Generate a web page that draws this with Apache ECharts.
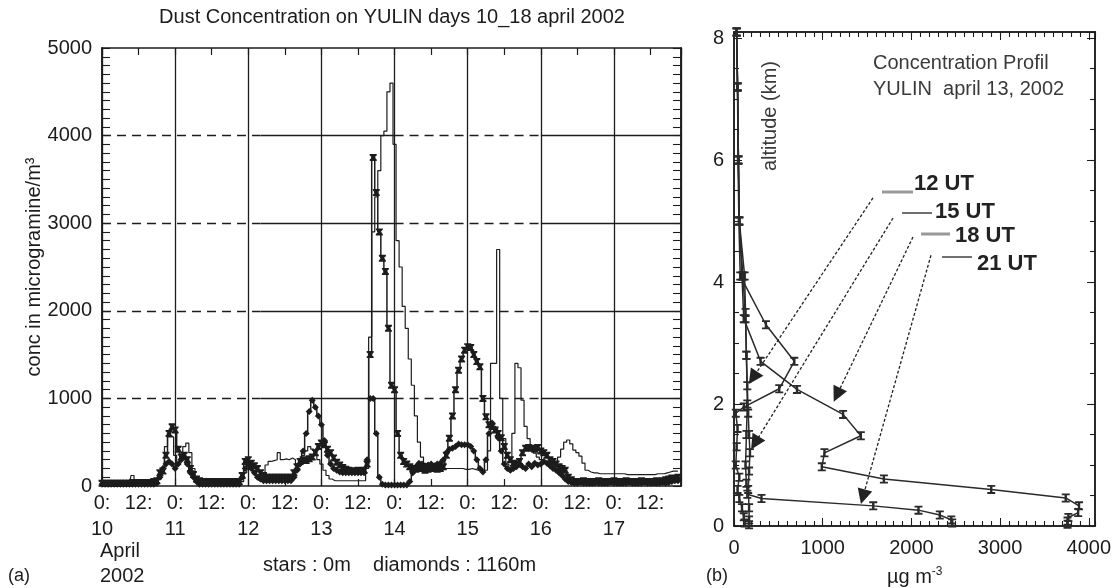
<!DOCTYPE html>
<html><head><meta charset="utf-8">
<script src="https://cdn.jsdelivr.net/npm/echarts@6/dist/echarts.min.js"></script>
<style>html,body{margin:0;padding:0;background:#fff}#c{width:1115px;height:588px}</style>
</head><body><div id="c"></div>
<script>
// ---------- LEFT PANEL DATA (hourly, hour 0 = 10 April 00:00) ----------
const dayLabels = ['10','11','12','13','14','15','16','17'];
// thin line (no markers)
const thinVals = [
 10,10,10,10,10,10,10,10,10,10,
 120,40,20,20,20,20,20,20,30,80,
 200,450,560,560,350,250,350,450,490,380,
 200,80,20,20,20,20,20,20,20,20,
 20,20,20,20,20,20,50,150,250,200,
 150,100,60,100,240,280,290,300,380,300,
 310,300,320,300,250,300,350,400,450,420,
 380,300,250,180,120,80,60,60,60,60,
 60,60,60,60,60,60,60,200,1700,2900,
 3300,3600,4000,4050,4500,4600,3900,2800,2500,2050,
 1800,1450,1150,800,500,330,250,220,200,200,
 200,200,200,200,200,200,200,200,200,190,
 190,200,190,180,190,180,180,400,1400,1400,
 2700,1000,540,250,180,600,1400,1350,980,680,
 540,450,375,330,300,280,250,230,250,280,
 330,420,500,525,480,410,380,340,260,180,
 160,150,150,140,140,140,140,140,140,140,
 140,140,130,130,130,130,130,130,130,130,
 130,130,140,140,140,150,160,170,170,170];
// stars : 0 m
const starVals = [
 30,30,30,30,30,30,30,30,30,30,
 40,40,40,40,40,40,40,50,60,150,
 170,350,600,675,640,420,330,350,300,200,
 130,80,60,50,50,50,50,50,50,50,
 50,50,50,50,50,50,120,280,300,260,
 230,200,150,120,100,100,100,100,100,100,
 100,100,100,150,220,280,300,290,310,330,
 380,450,490,470,420,380,320,270,240,210,
 190,180,170,170,180,170,180,250,1500,3750,
 3350,2900,2600,2450,1800,1150,1100,600,350,280,
 250,220,200,190,210,200,180,190,200,210,
 190,200,220,350,545,800,1100,1320,1450,1550,
 1590,1580,1500,1420,1360,1000,790,700,680,640,
 600,550,450,350,300,260,250,280,380,430,
 440,430,420,440,400,380,350,300,280,250,
 220,200,180,100,70,50,50,50,60,50,
 50,40,50,60,50,40,50,50,60,50,
 40,50,60,50,50,40,50,60,50,50,
 50,40,60,50,60,70,80,90,80,100];
// diamonds : 1160 m
const diamondVals = [
 20,20,20,20,20,20,20,20,20,20,
 20,20,20,20,20,20,20,20,30,100,
 200,250,280,250,200,250,300,330,250,150,
 100,50,20,20,20,20,20,20,20,20,
 20,20,20,20,20,20,100,200,250,200,
 150,100,80,60,60,60,60,60,60,60,
 60,60,60,100,180,250,400,600,850,980,
 900,800,700,520,350,250,200,180,160,150,
 150,150,150,150,150,150,150,300,1000,1000,
 600,100,20,10,10,10,10,10,10,10,
 10,50,150,220,260,250,230,240,250,230,
 250,260,300,380,420,430,450,480,470,470,
 470,450,400,300,200,160,300,600,720,650,
 550,400,250,200,180,200,220,250,220,200,
 250,220,260,240,250,280,260,230,200,180,
 150,120,80,50,40,30,30,40,30,30,
 30,30,40,30,30,30,30,40,30,30,
 30,30,30,40,30,30,30,30,40,30,
 30,40,30,30,40,30,40,50,60,60];
const hours = thinVals.map((_, i) => i);
// horizontal grid levels and their solid / dashed spans (hours)
const gridLevels = [1000,2000,3000,4000];
const solidSpans = [[52,96],[144,190]];
const dashedSpans = [[0,52],[96,144]];

// ---------- RIGHT PANEL DATA (concentration ug/m3, altitude km) ----------
const alt12 = [8.1,7.2,6.0,5.0,4.1,3.3,2.7,2.25,1.95,1.85,1.6,1.3,1.0,0.8,0.6,0.45,0.3,0.15,0.05];
const conc12 = [30,40,45,55,70,360,680,510,110,20,40,30,20,60,40,60,90,110,120];
const alt15 = [8.1,7.2,6.0,5.0,4.1,3.5,2.8,2.3,1.85,1.5,1.2,0.9,0.6,0.3,0.1,0.02];
const conc15 = [30,40,50,60,120,130,140,150,160,170,180,170,160,170,170,170];
const alt18 = [8.1,7.2,6.0,5.0,4.1,3.4,2.7,2.24,1.83,1.48,1.2,0.97,0.77,0.6,0.46,0.33,0.22,0.14,0.08,0.03];
const conc18 = [30,40,50,60,90,110,300,710,1230,1430,1020,990,1690,2900,3740,3890,3880,3770,3760,3760];
const alt21 = [8.1,7.2,6.0,5.0,4.1,3.4,2.8,2.0,1.5,1.0,0.7,0.52,0.45,0.33,0.26,0.18,0.1,0.05];
const conc21 = [30,40,50,60,100,130,140,150,140,130,140,150,310,1570,2080,2320,2450,2460];
// annotation arrows: [fromConc, fromAlt, toConc, toAlt]
const arrows = [[1567,5.38,214,2.43],[1793,5.05,237,1.36],[2018,4.74,1161,2.15],[2221,4.44,1454,0.48]];
const utLabels = ['12 UT','15 UT','18 UT','21 UT'];

// ---------- CHART ----------
const FONT = '"Liberation Sans", Arial, sans-serif';
const ink = '#1c1c1c';
const starPath = 'path://M0,0L10,0L10,2L6.5,5L10,8L10,10L0,10L0,8L3.5,5L0,2Z';
const ibeamPath = 'path://M0,0H10V2H6.5V8H10V10H0V8H3.5V2H0Z';

const gridMarks = [];
gridLevels.forEach(v => {
  solidSpans.forEach(s => gridMarks.push([{coord:[s[0],v], lineStyle:{type:'solid'}},{coord:[s[1],v]}]));
  dashedSpans.forEach(s => gridMarks.push([{coord:[s[0],v], lineStyle:{type:[9,6]}},{coord:[s[1],v]}]));
});

const axLine = {show:true, onZero:false, lineStyle:{color:ink, width:1.5}};
const lbl = {fontSize:20, color:ink, fontFamily:FONT, formatter: v => String(v)};
const tickOnly = (gi, min, max, iv, pos, len) => ({gridIndex:gi, type:'value', min:min, max:max, interval:iv, position:pos,
  axisLine:axLine, axisTick:{inside:true, length:len, lineStyle:{color:ink, width:1.1}}, axisLabel:{show:false}, splitLine:{show:false}});

const chart = echarts.init(document.getElementById('c'), null, {renderer:'canvas'});
const option = {
  animation:false,
  backgroundColor:'#fff',
  grid:[{left:102, top:48, width:579, height:438},{left:734, top:32, width:361, height:494}],
  xAxis:[
    {gridIndex:0, type:'value', min:0, max:190, interval:12, position:'bottom',
     axisLine:axLine, axisTick:{inside:true, length:7, lineStyle:{color:ink, width:1.2}},
     axisLabel:{fontSize:20, color:ink, fontFamily:FONT, margin:4, lineHeight:26, showMaxLabel:false,
       formatter: v => v % 24 === 0 ? '0:\n' + dayLabels[v/24] : '12:\n '},
     splitLine:{show:false}},
    {gridIndex:0, type:'value', min:0, max:190, interval:12, position:'top',
     axisLine:axLine, axisTick:{inside:true, length:7, lineStyle:{color:ink, width:1.2}},
     axisLabel:{show:false}, splitLine:{show:false}},
    {gridIndex:0, type:'value', min:0, max:190, interval:24, position:'bottom',
     axisLine:{show:false}, axisTick:{show:false}, axisLabel:{show:false},
     splitLine:{show:true, lineStyle:{color:ink, width:1.3}}},
    {gridIndex:1, type:'value', min:0, max:4070, interval:1000, position:'bottom',
     axisLine:axLine, axisTick:{inside:true, length:8, lineStyle:{color:ink}},
     axisLabel:Object.assign({margin:12, showMaxLabel:false}, lbl), splitLine:{show:false}},
    {gridIndex:1, type:'value', min:0, max:4070, interval:1000, position:'top',
     axisLine:axLine, axisTick:{inside:true, length:8, lineStyle:{color:ink}},
     axisLabel:{show:false}, splitLine:{show:false}},
    tickOnly(1, 0, 4070, 100, 'bottom', 5),
    tickOnly(1, 0, 4070, 100, 'top', 5)
  ],
  yAxis:[
    {gridIndex:0, type:'value', min:0, max:5000, interval:1000, position:'left',
     axisLine:axLine, axisTick:{inside:true, length:8, lineStyle:{color:ink}},
     axisLabel:Object.assign({margin:10}, lbl), splitLine:{show:false}},
    {gridIndex:0, type:'value', min:0, max:5000, interval:1000, position:'right',
     axisLine:axLine, axisTick:{inside:true, length:8, lineStyle:{color:ink}},
     axisLabel:{show:false}, splitLine:{show:false}},
    {gridIndex:1, type:'value', min:0, max:8.1, interval:2, position:'left',
     axisLine:axLine, axisTick:{inside:true, length:8, lineStyle:{color:ink}},
     axisLabel:Object.assign({margin:10, showMaxLabel:false}, lbl), splitLine:{show:false}},
    {gridIndex:1, type:'value', min:0, max:8.1, interval:2, position:'right',
     axisLine:axLine, axisTick:{inside:true, length:8, lineStyle:{color:ink}},
     axisLabel:{show:false}, splitLine:{show:false}},
    tickOnly(0, 0, 5000, 100, 'left', 8),
    tickOnly(0, 0, 5000, 100, 'right', 8),
    tickOnly(1, 0, 8.1, 0.5, 'left', 5),
    tickOnly(1, 0, 8.1, 0.5, 'right', 5)
  ],
  series:[
    {name:'thin', type:'line', xAxisIndex:0, yAxisIndex:0, step:'middle', showSymbol:false,
     data: hours.map((h,i)=>[h, thinVals[i]]), lineStyle:{color:ink, width:1.2}, z:3,
     markLine:{silent:true, symbol:'none', label:{show:false}, animation:false,
       lineStyle:{color:ink, width:1.3}, data:gridMarks}},
    {name:'diamonds : 1160m', type:'line', xAxisIndex:0, yAxisIndex:0, step:'middle',
     symbol:'diamond', symbolSize:7, showAllSymbol:true,
     data: hours.map((h,i)=>[h, diamondVals[i]]),
     lineStyle:{color:ink, width:1.5}, itemStyle:{color:ink}, z:4},
    {name:'stars : 0m', type:'line', xAxisIndex:0, yAxisIndex:0, step:'middle',
     symbol:starPath, symbolSize:7, showAllSymbol:true,
     data: hours.map((h,i)=>[h, starVals[i]]),
     lineStyle:{color:ink, width:1.5}, itemStyle:{color:ink}, z:5},
    {name:'12 UT', type:'line', xAxisIndex:3, yAxisIndex:2, symbol:ibeamPath, symbolSize:[8,9],
     data: conc12.map((c,i)=>[c, alt12[i]]), lineStyle:{color:'#2a2a2a', width:1.5}, itemStyle:{color:'#2a2a2a'}},
    {name:'15 UT', type:'line', xAxisIndex:3, yAxisIndex:2, symbol:ibeamPath, symbolSize:[8,9],
     data: conc15.map((c,i)=>[c, alt15[i]]), lineStyle:{color:'#2a2a2a', width:1.5}, itemStyle:{color:'#2a2a2a'}},
    {name:'18 UT', type:'line', xAxisIndex:3, yAxisIndex:2, symbol:ibeamPath, symbolSize:[8,9],
     data: conc18.map((c,i)=>[c, alt18[i]]), lineStyle:{color:'#2a2a2a', width:1.5}, itemStyle:{color:'#2a2a2a'}},
    {name:'21 UT', type:'line', xAxisIndex:3, yAxisIndex:2, symbol:ibeamPath, symbolSize:[8,9],
     data: conc21.map((c,i)=>[c, alt21[i]]), lineStyle:{color:'#2a2a2a', width:1.5}, itemStyle:{color:'#2a2a2a'},
     markLine:{silent:true, symbol:['none','triangle'], symbolSize:15, label:{show:false}, animation:false,
       lineStyle:{color:'#222', width:1.3, type:[3,2]}, itemStyle:{color:'#222'},
       data: arrows.map(a => [{coord:[a[0],a[1]]},{coord:[a[2],a[3]]}])}}
  ],
  graphic:[
    {type:'text', x:392, y:17, style:{text:'Dust Concentration on YULIN days 10_18 april 2002', font:'20px '+FONT, fill:ink, align:'center', verticalAlign:'middle', textAlign:'center', textVerticalAlign:'middle'}},
    {type:'text', x:34, y:267, rotation:Math.PI/2, style:{text:'conc in microgramine/m³', font:'20px '+FONT, fill:ink, align:'center', verticalAlign:'middle', textAlign:'center', textVerticalAlign:'middle'}},
    {type:'text', x:100, y:551, style:{text:'April', font:'20px '+FONT, fill:ink, align:'left', verticalAlign:'middle', textAlign:'left', textVerticalAlign:'middle'}},
    {type:'text', x:100, y:576, style:{text:'2002', font:'20px '+FONT, fill:ink, align:'left', verticalAlign:'middle', textAlign:'left', textVerticalAlign:'middle'}},
    {type:'text', x:263, y:565, style:{text:'stars : 0m    diamonds : 1160m', font:'20px '+FONT, fill:ink, align:'left', verticalAlign:'middle', textAlign:'left', textVerticalAlign:'middle'}},
    {type:'text', x:8, y:576, style:{text:'(a)', font:'18px '+FONT, fill:ink, align:'left', verticalAlign:'middle', textAlign:'left', textVerticalAlign:'middle'}},
    {type:'text', x:706, y:576, style:{text:'(b)', font:'18px '+FONT, fill:ink, align:'left', verticalAlign:'middle', textAlign:'left', textVerticalAlign:'middle'}},
    {type:'text', x:887, y:577, style:{text:'µg m{s|-3}', font:'20px '+FONT, fill:ink, align:'left', verticalAlign:'middle', textAlign:'left', textVerticalAlign:'middle',
      rich:{s:{fontSize:12, fontFamily:FONT, fill:ink, padding:[0,0,10,0]}}}},
    {type:'text', x:873, y:63, style:{text:'Concentration Profil', font:'20px '+FONT, fill:'#3a3a3a', align:'left', verticalAlign:'middle', textAlign:'left', textVerticalAlign:'middle'}},
    {type:'text', x:873, y:89, style:{text:'YULIN  april 13, 2002', font:'20px '+FONT, fill:'#3a3a3a', align:'left', verticalAlign:'middle', textAlign:'left', textVerticalAlign:'middle'}},
    {type:'text', x:770, y:116, rotation:Math.PI/2, style:{text:'altitude (km)', font:'20px '+FONT, fill:'#3a3a3a', align:'center', verticalAlign:'middle', textAlign:'center', textVerticalAlign:'middle'}},
    {type:'line', shape:{x1:882, y1:192, x2:913, y2:192}, style:{stroke:'#999', lineWidth:3}},
    {type:'line', shape:{x1:902, y1:213, x2:932, y2:213}, style:{stroke:'#222', lineWidth:1.3}},
    {type:'line', shape:{x1:921, y1:234, x2:950, y2:234}, style:{stroke:'#999', lineWidth:3}},
    {type:'line', shape:{x1:942, y1:257, x2:972, y2:257}, style:{stroke:'#222', lineWidth:1.3}},
    {type:'text', x:914, y:184, style:{text:utLabels[0], font:'bold 22px '+FONT, fill:'#222', align:'left', verticalAlign:'middle', textAlign:'left', textVerticalAlign:'middle'}},
    {type:'text', x:935, y:212, style:{text:utLabels[1], font:'bold 22px '+FONT, fill:'#222', align:'left', verticalAlign:'middle', textAlign:'left', textVerticalAlign:'middle'}},
    {type:'text', x:955, y:236, style:{text:utLabels[2], font:'bold 22px '+FONT, fill:'#222', align:'left', verticalAlign:'middle', textAlign:'left', textVerticalAlign:'middle'}},
    {type:'text', x:977, y:264, style:{text:utLabels[3], font:'bold 22px '+FONT, fill:'#222', align:'left', verticalAlign:'middle', textAlign:'left', textVerticalAlign:'middle'}}
  ]
};
chart.setOption(option);
</script></body></html>
